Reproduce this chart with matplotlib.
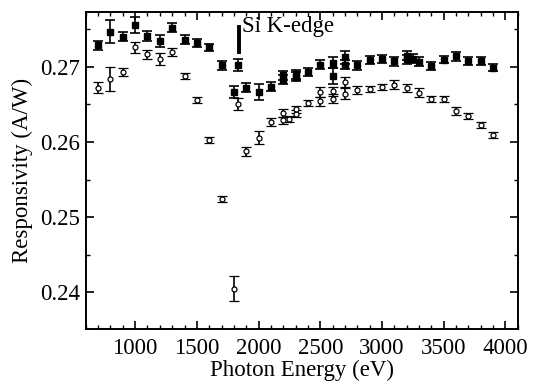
import numpy as np
import matplotlib
matplotlib.use('Agg')
import matplotlib.pyplot as plt
from matplotlib.ticker import MultipleLocator

plt.rcParams['font.family'] = ['Liberation Serif', 'DejaVu Serif']
plt.rcParams['font.size'] = 16.5

# Filled squares
e_fill = [700, 800, 900, 1000, 1100, 1200, 1300, 1400, 1500, 1600, 1700,
          1800, 1835, 1900, 2000, 2100, 2200, 2200, 2300, 2300, 2400, 2500,
          2600, 2600, 2700, 2700, 2800, 2900, 3000, 3100, 3200, 3200, 3250,
          3300, 3400, 3500, 3600, 3700, 3800, 3900]
r_fill = [0.27289, 0.27467, 0.27400, 0.27556, 0.27409, 0.27342, 0.27519,
          0.27364, 0.27320, 0.27258, 0.27022, 0.26667, 0.27031, 0.26725,
          0.26667, 0.26733, 0.26889, 0.26832, 0.26903, 0.26867, 0.26933,
          0.27031, 0.27058, 0.26880, 0.27125, 0.27031, 0.27022, 0.27089,
          0.27103, 0.27076, 0.27147, 0.27103, 0.27111, 0.27067, 0.27013,
          0.27098, 0.27142, 0.27076, 0.27080, 0.26991]
err_fill = [0.0006, 0.0015, 0.0006, 0.0011, 0.0007, 0.0008, 0.0006, 0.0006,
            0.0005, 0.0005, 0.0006, 0.0008, 0.0008, 0.0006, 0.0011, 0.0006,
            0.0006, 0.0006, 0.0006, 0.0006, 0.0005, 0.0006, 0.0007, 0.0011,
            0.0009, 0.0006, 0.0006, 0.0005, 0.0005, 0.0006, 0.0006, 0.0006,
            0.0006, 0.0006, 0.0005, 0.0005, 0.0006, 0.0005, 0.0005, 0.0005]

# Open circles
e_open = [700, 800, 900, 1000, 1100, 1200, 1300, 1400, 1500, 1600, 1700,
          1800, 1835, 1900, 2000, 2100, 2200, 2200, 2250, 2300, 2300, 2400,
          2500, 2500, 2600, 2600, 2700, 2700, 2800, 2900, 3000, 3100, 3200,
          3300, 3400, 3500, 3600, 3700, 3800, 3900]
r_open = [0.26725, 0.26845, 0.26933, 0.27258, 0.27169, 0.27103, 0.27200,
          0.26876, 0.26556, 0.26022, 0.25245, 0.24053, 0.26511, 0.25876,
          0.26058, 0.26267, 0.26290, 0.26387, 0.26303, 0.26378, 0.26436,
          0.26520, 0.26543, 0.26667, 0.26579, 0.26676, 0.26644, 0.26800,
          0.26690, 0.26712, 0.26733, 0.26765, 0.26720, 0.26653, 0.26579,
          0.26579, 0.26413, 0.26343, 0.26223, 0.26090]
err_open = [0.0007, 0.0016, 0.0005, 0.0007, 0.0006, 0.0008, 0.0005, 0.0004,
            0.0004, 0.0004, 0.0004, 0.0016, 0.0008, 0.0006, 0.0009, 0.0005,
            0.0005, 0.0005, 0.0004, 0.0005, 0.0005, 0.0004, 0.0006, 0.0007,
            0.0006, 0.0006, 0.0007, 0.0007, 0.0005, 0.0004, 0.0004, 0.0006,
            0.0005, 0.0006, 0.0004, 0.0004, 0.0005, 0.0004, 0.0004, 0.0004]

edge_e = 1840
edge_r = (0.2720, 0.2753)

fig = plt.figure(figsize=(5.36, 3.87), dpi=100)
ax = fig.add_axes([0.160, 0.149, 0.806, 0.820])

ax.errorbar(e_fill, r_fill, yerr=err_fill, fmt='s', color='black', ms=3.8,
            mfc='black', mec='black', ecolor='black', elinewidth=1.2,
            capsize=3.8, capthick=1.2)
ax.errorbar(e_open, r_open, yerr=err_open, fmt='o', color='black', ms=3.6,
            mfc='white', mec='black', mew=0.9, ecolor='black', elinewidth=1.2,
            capsize=3.8, capthick=1.2)

# Si K-edge marker
ax.plot([edge_e, edge_e], edge_r, color='black', lw=2.8)
ax.text(edge_e + 25, 0.2754, 'Si K-edge', ha='left', va='center', fontsize=16.5)

ax.set_xlim(600, 4100)
ax.set_ylim(0.2351, 0.2773)
ax.xaxis.set_minor_locator(MultipleLocator(100))
ax.yaxis.set_major_locator(MultipleLocator(0.01))
ax.yaxis.set_minor_locator(MultipleLocator(0.005))
ax.set_xticks([1000, 1500, 2000, 2500, 3000, 3500, 4000])
ax.tick_params(which='both', direction='in', top=True, right=True,
               labeltop=False, labelright=False)
ax.tick_params(which='major', length=6, width=1.2)
ax.tick_params(which='minor', length=3, width=1.0)
ax.tick_params(axis='x', pad=6)
ax.tick_params(axis='y', pad=4)
for s in ax.spines.values():
  s.set_linewidth(1.4)

ax.set_xlabel('Photon Energy (eV)', labelpad=1)
ax.set_ylabel('Responsivity (A/W)', labelpad=5)

fig.savefig('out.png', dpi=100)
